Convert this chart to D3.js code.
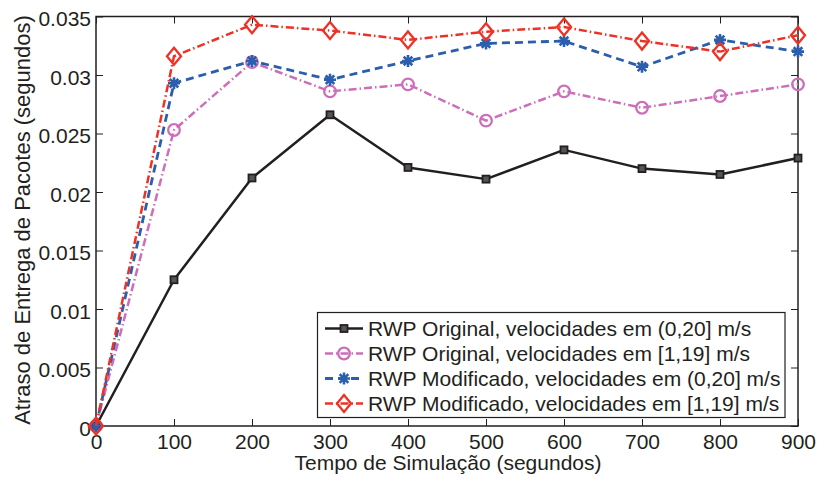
<!DOCTYPE html>
<html>
<head>
<meta charset="utf-8">
<script src="https://cdn.jsdelivr.net/npm/d3@7"></script>
<style>
html,body{margin:0;padding:0;background:#fff;}
svg{display:block;font-family:"Liberation Sans",Arial,Helvetica,sans-serif;}
</style>
</head>
<body>
<svg id="chart" width="817" height="477"></svg>
<script>
// ---- data ----
const times = [0, 100, 200, 300, 400, 500, 600, 700, 800, 900];
const rwpOriginal020 = [0, 0.0125, 0.0212, 0.0266, 0.0221, 0.0211, 0.0236, 0.0220, 0.0215, 0.0229];
const rwpOriginal119 = [0, 0.0253, 0.0311, 0.0286, 0.0292, 0.0261, 0.0286, 0.0272, 0.0282, 0.0292];
const rwpModificado020 = [0, 0.0293, 0.0312, 0.0296, 0.0312, 0.0327, 0.0329, 0.0307, 0.0330, 0.0320];
const rwpModificado119 = [0, 0.0316, 0.0343, 0.0338, 0.0330, 0.0337, 0.0341, 0.0329, 0.0320, 0.0334];
const seriesNames = [
  "RWP Original, velocidades em (0,20] m/s",
  "RWP Original, velocidades em [1,19] m/s",
  "RWP Modificado, velocidades em (0,20] m/s",
  "RWP Modificado, velocidades em [1,19] m/s"
];
const xTicks = [0, 100, 200, 300, 400, 500, 600, 700, 800, 900];
const yTicks = [0, 0.005, 0.01, 0.015, 0.02, 0.025, 0.03, 0.035];
const yTickLabels = ["0", "0.005", "0.01", "0.015", "0.02", "0.025", "0.03", "0.035"];
const xLabel = "Tempo de Simulação (segundos)";
const yLabel = "Atraso de Entrega de Pacotes (segundos)";

// ---- styles ----
const styles = [
  {color: "#231f20", dash: null, marker: "square", width: 2.5},
  {color: "#cc6eb9", dash: "8,3,1.5,3", marker: "circle", width: 2.5},
  {color: "#2b5fae", dash: "8,5", marker: "star", width: 2.8},
  {color: "#ee3124", dash: "8,3,1.5,3", marker: "diamond", width: 2.5}
];
const allSeries = [rwpOriginal020, rwpOriginal119, rwpModificado020, rwpModificado119];

const svg = d3.select("#chart");
const L = 96, R = 798, T = 16.5, B = 426;
const x = d3.scaleLinear().domain([0, 900]).range([L, R]);
const y = d3.scaleLinear().domain([0, 0.035]).range([B, T]);
const fontSize = 21;
const tickLen = 7;
const axisColor = "#231f20";

// axes box
svg.append("rect").attr("x", L).attr("y", T).attr("width", R - L).attr("height", B - T)
  .attr("fill", "none").attr("stroke", axisColor).attr("stroke-width", 1.5);

// bottom axis
const xAxis = d3.axisBottom(x).tickValues(xTicks).tickSize(-tickLen).tickFormat(d3.format("d"));
const gx = svg.append("g").attr("transform", `translate(0,${B})`).call(xAxis);
// top axis ticks
const gxt = svg.append("g").attr("transform", `translate(0,${T})`).call(d3.axisTop(x).tickValues(xTicks).tickSize(-tickLen).tickFormat(""));
// left axis
const yAxis = d3.axisLeft(y).tickValues(yTicks).tickSize(-tickLen).tickFormat((d, i) => yTickLabels[i]);
const gy = svg.append("g").attr("transform", `translate(${L},0)`).call(yAxis);
// right axis ticks
const gyr = svg.append("g").attr("transform", `translate(${R},0)`).call(d3.axisRight(y).tickValues(yTicks).tickSize(-tickLen).tickFormat(""));

[gx, gxt, gy, gyr].forEach(g => {
  g.select(".domain").remove();
  g.selectAll(".tick line").attr("stroke", axisColor).attr("stroke-width", 1);
  g.selectAll(".tick text").attr("fill", axisColor).style("font-size", fontSize + "px")
    .style("font-family", "'Liberation Sans', Arial, sans-serif");
});
gx.selectAll(".tick text").attr("y", 22.5).attr("dy", null);
gy.selectAll(".tick text").attr("x", -5).attr("dy", "0.45em");

// axis labels
svg.append("text").attr("x", (L + R) / 2 + 1).attr("y", 470).attr("text-anchor", "middle")
  .attr("fill", axisColor).style("font-size", fontSize + "px").text(xLabel);
svg.append("text").attr("transform", `translate(30,${220}) rotate(-90)`)
  .attr("text-anchor", "middle").attr("fill", axisColor).style("font-size", "22px").text(yLabel);

// marker drawing
function drawMarker(g, type, cx, cy, color) {
  if (type === "square") {
    g.append("rect").attr("x", cx - 3.5).attr("y", cy - 3.5).attr("width", 7).attr("height", 7)
      .attr("fill", "#555").attr("stroke", color).attr("stroke-width", 1.8);
  } else if (type === "circle") {
    g.append("circle").attr("cx", cx).attr("cy", cy).attr("r", 5.8)
      .attr("fill", "none").attr("stroke", color).attr("stroke-width", 2.3);
  } else if (type === "diamond") {
    const w = 7, h = 8.5;
    g.append("path").attr("d", `M${cx},${cy - h}L${cx + w},${cy}L${cx},${cy + h}L${cx - w},${cy}Z`)
      .attr("fill", "none").attr("stroke", color).attr("stroke-width", 2.3);
  } else if (type === "star") {
    const r = 6, d = r * 0.72;
    g.append("path").attr("d",
      `M${cx - r},${cy}L${cx + r},${cy}M${cx},${cy - r}L${cx},${cy + r}` +
      `M${cx - d},${cy - d}L${cx + d},${cy + d}M${cx - d},${cy + d}L${cx + d},${cy - d}`)
      .attr("fill", "none").attr("stroke", color).attr("stroke-width", 2.6);
  }
}

// lines
const line = d3.line().x((d, i) => x(times[i])).y(d => y(d));
allSeries.forEach((vals, si) => {
  const st = styles[si];
  const g = svg.append("g");
  g.append("path").datum(vals).attr("d", line).attr("fill", "none")
    .attr("stroke", st.color).attr("stroke-width", st.width)
    .attr("stroke-dasharray", st.dash).attr("stroke-linejoin", "round");
  vals.forEach((v, i) => drawMarker(g, st.marker, x(times[i]), y(v), st.color));
});

// legend
const lg = svg.append("g");
lg.append("rect").attr("x", 317.5).attr("y", 312.5).attr("width", 467.5).attr("height", 105)
  .attr("fill", "#fff").attr("stroke", axisColor).attr("stroke-width", 1.2);
seriesNames.forEach((name, i) => {
  const st = styles[i];
  const cy = 328.5 + i * 25;
  lg.append("line").attr("x1", 325).attr("x2", 363).attr("y1", cy).attr("y2", cy)
    .attr("stroke", st.color).attr("stroke-width", st.width).attr("stroke-dasharray", st.dash);
  drawMarker(lg, st.marker, 344, cy, st.color);
  lg.append("text").attr("x", 368).attr("y", cy + 7).attr("fill", axisColor)
    .style("font-size", fontSize + "px").text(name);
});
</script>
</body>
</html>
